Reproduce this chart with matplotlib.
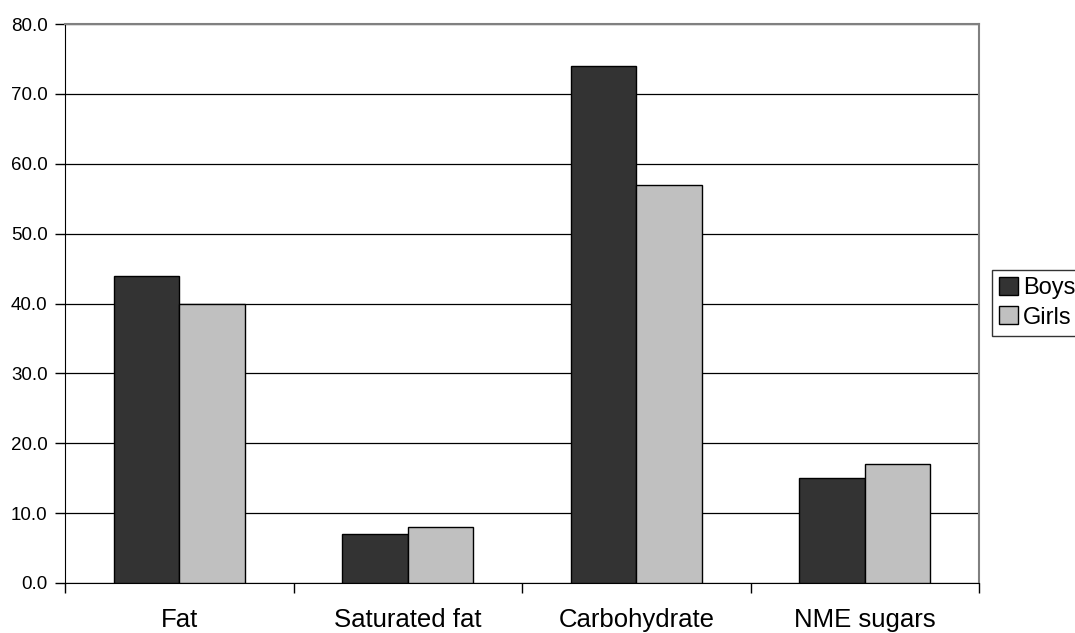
import matplotlib
matplotlib.use("Agg")
import matplotlib.pyplot as plt
import numpy as np

# ─── DATA ─────────────────────────────────────────────────────
nutrients = ["Fat", "Saturated fat", "Carbohydrate", "NME sugars"]
boys = [44.0, 7.0, 74.0, 15.0]
girls = [40.0, 8.0, 57.0, 17.0]
y_ticks = [0, 10, 20, 30, 40, 50, 60, 70, 80]

plt.rcParams["font.family"] = ["Liberation Sans", "DejaVu Sans"]

fig = plt.figure(figsize=(10.75, 6.33), dpi=100)
ax = fig.add_axes([0.0605, 0.079, 0.8502, 0.883])

x = np.arange(len(nutrients))
w = 0.287
ax.bar(x - w / 2, boys, w, color="#333333", edgecolor="black", linewidth=1, label="Boys", zorder=3)
ax.bar(x + w / 2, girls, w, color="#c0c0c0", edgecolor="black", linewidth=1, label="Girls", zorder=3)

ax.set_xlim(-0.5, len(nutrients) - 0.5)
ax.set_ylim(0, 80)
ax.set_yticks(y_ticks)
ax.set_yticklabels([f"{v:.1f}" for v in y_ticks], fontsize=13.5)
ax.yaxis.grid(True, color="black", linewidth=0.9, zorder=0)

# category labels sit between the boundary ticks
ax.set_xticks(np.arange(len(nutrients) + 1) - 0.5)
ax.set_xticklabels([])
ax.set_xticks(x, minor=True)
ax.set_xticklabels(nutrients, minor=True, fontsize=18.5)
ax.tick_params(axis="x", which="minor", length=0, pad=18)
ax.tick_params(axis="x", which="major", length=7, direction="out", width=1)
ax.tick_params(axis="y", length=7, width=1, pad=5.5)

for side in ["top", "right"]:
    ax.spines[side].set_color("#808080")
    ax.spines[side].set_linewidth(1.5)
ax.spines["left"].set_color("black")
ax.spines["bottom"].set_color("black")

leg = ax.legend(loc="upper left", bbox_to_anchor=(992 / 1075, 1 - 270 / 633),
                bbox_transform=fig.transFigure, fontsize=17, frameon=True,
                fancybox=False, borderpad=0.3, handlelength=0.8, handleheight=0.8,
                handletextpad=0.2, labelspacing=0.3, borderaxespad=0)
leg.get_frame().set_edgecolor("black")
leg.get_frame().set_linewidth(1)

fig.savefig("out.png", dpi=100)
